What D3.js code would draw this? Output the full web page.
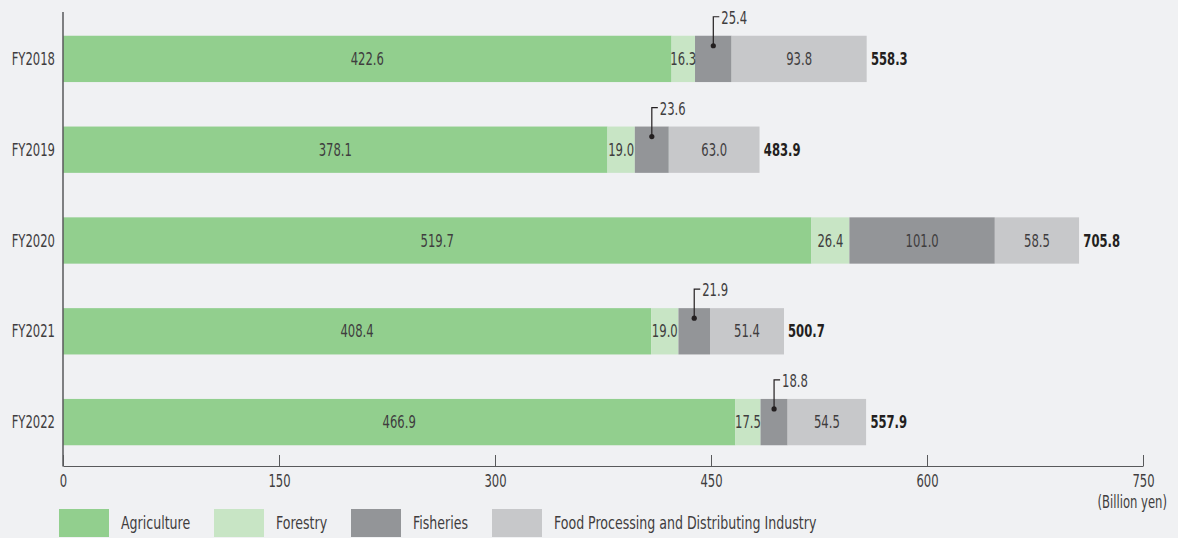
<!DOCTYPE html>
<html>
<head>
<meta charset="utf-8">
<script src="https://cdn.jsdelivr.net/npm/d3@7"></script>
<style>
  body { margin: 0; background: #f0f1f3; }
  svg { display: block; font-family: "DejaVu Sans Condensed", "DejaVu Sans", sans-serif; }
</style>
</head>
<body>
<svg id="chart" width="1178" height="538"></svg>
<script>
// data
var years = ["FY2018", "FY2019", "FY2020", "FY2021", "FY2022"];
var agriculture = [422.6, 378.1, 519.7, 408.4, 466.9];
var forestry = [16.3, 19.0, 26.4, 19.0, 17.5];
var fisheries = [25.4, 23.6, 101.0, 21.9, 18.8];
var foodIndustry = [93.8, 63.0, 58.5, 51.4, 54.5];
var totals = [558.3, 483.9, 705.8, 500.7, 557.9];
var xTicks = [0, 150, 300, 450, 600, 750];

var seriesNames = ["Agriculture", "Forestry", "Fisheries", "Food Processing and Distributing Industry"];
var seriesColors = ["#92cf8e", "#c8e5c5", "#939598", "#c7c8ca"];
var seriesValues = [agriculture, forestry, fisheries, foodIndustry];

var rows = years.map(function (y, i) {
    var r = { year: y, total: totals[i] };
    seriesNames.forEach(function (n, k) { r[n] = seriesValues[k][i]; });
    return r;
});

var SX = 0.76; // horizontal squeeze to mimic a condensed face
var textColor = "#3f3d3e";

var svg = d3.select("#chart");
var x = d3.scaleLinear().domain([0, 750]).range([63, 1143]);
var y = d3.scaleBand().domain(years).range([13.5, 467.5]).paddingInner(0.49).paddingOuter(0.245);

// write a text squeezed horizontally around its anchor
function label(parent, px, py, str, size, anchor, weight, color, sx) {
    return parent.append("text")
        .attr("transform", "translate(" + px + "," + py + ") scale(" + (sx || SX) + ",1)")
        .attr("dy", "0.36em")
        .attr("text-anchor", anchor || "start")
        .attr("fill", color || textColor)
        .style("font-size", size + "px")
        .style("font-weight", weight || "normal")
        .text(str);
}

var stack = d3.stack().keys(seriesNames);
var layers = stack(rows);

// bars
var layer = svg.selectAll("g.layer")
    .data(layers)
    .enter().append("g")
    .attr("class", "layer")
    .attr("fill", function (d, i) { return seriesColors[i]; });

layer.selectAll("rect")
    .data(function (d) { return d; })
    .enter().append("rect")
    .attr("x", function (d) { return x(d[0]); })
    .attr("y", function (d) { return y(d.data.year); })
    .attr("width", function (d) { return x(d[1]) - x(d[0]); })
    .attr("height", y.bandwidth());

// segment labels, small fisheries values get a callout above the bar
layers.forEach(function (L) {
    L.forEach(function (d) {
        var v = d[1] - d[0];
        var cx = (x(d[0]) + x(d[1])) / 2;
        var top = y(d.data.year);
        var cy = top + y.bandwidth() / 2;
        if (L.key === "Fisheries" && v < 50) {
            svg.append("circle").attr("cx", cx).attr("cy", top + 10).attr("r", 2.6).attr("fill", "#231f20");
            svg.append("path")
                .attr("d", "M" + cx + "," + (top + 10) + "V" + (top - 19) + "H" + (cx + 6))
                .attr("fill", "none").attr("stroke", "#231f20").attr("stroke-width", 1.2);
            label(svg, cx + 8, top - 18, v.toFixed(1), 17);
        } else {
            label(svg, cx, cy, v.toFixed(1), 17, "middle");
        }
    });
});

// totals
rows.forEach(function (d) {
    label(svg, x(d.total) + 4, y(d.year) + y.bandwidth() / 2, d.total.toFixed(1), 17, "start", "bold", "#231f20");
});

// category labels
years.forEach(function (d) {
    label(svg, 55, y(d) + y.bandwidth() / 2, d, 17, "end");
});

// left axis line
svg.append("line")
    .attr("x1", 63).attr("x2", 63).attr("y1", 12).attr("y2", 466.5)
    .attr("stroke", "#58595b").attr("stroke-width", 1.5);

// bottom axis
var xAxis = svg.append("g")
    .attr("transform", "translate(0,466)")
    .call(d3.axisBottom(x).tickValues(xTicks).tickSize(-11).tickPadding(9).tickSizeOuter(0));
xAxis.select(".domain").attr("stroke", "#58595b").attr("stroke-width", 1.2);
xAxis.selectAll(".tick line").attr("stroke", "#58595b");
xAxis.selectAll(".tick text")
    .attr("fill", textColor)
    .attr("transform", "scale(" + SX + ",1)")
    .style("font-size", "17px")
    .style("font-family", "'DejaVu Sans Condensed', 'DejaVu Sans', sans-serif");

label(svg, 1167, 502, "(Billion yen)", 17, "end");

// legend
var legendX = [59, 214, 351, 492];
seriesNames.forEach(function (n, i) {
    var g = svg.append("g").attr("transform", "translate(" + legendX[i] + ",509)");
    g.append("rect").attr("width", 50).attr("height", 28).attr("fill", seriesColors[i]);
    label(g, 62, 14, n, 17.5, "start", "normal", textColor, 0.8);
});
</script>
</body>
</html>
